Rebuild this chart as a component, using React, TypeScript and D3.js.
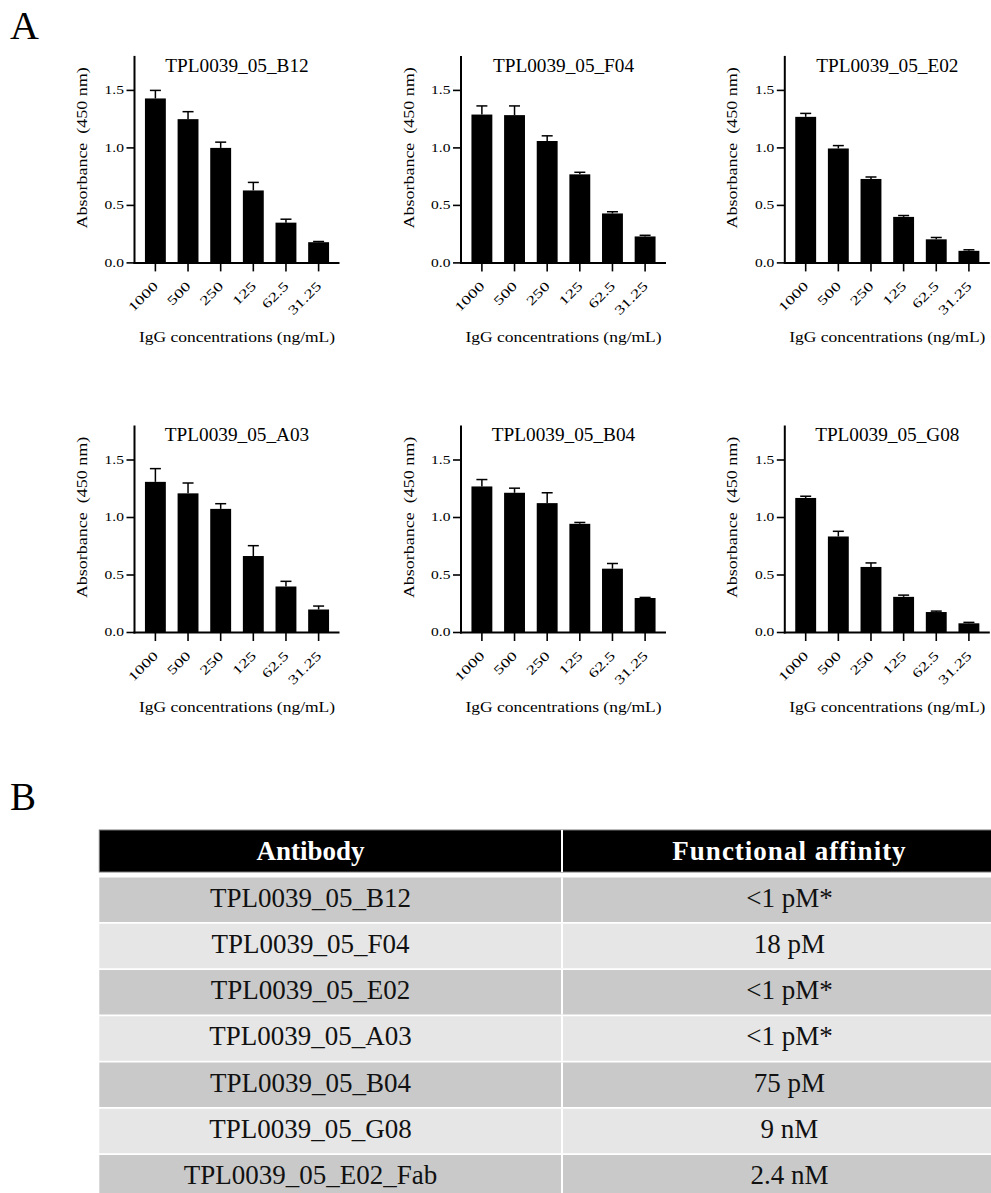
import React from "react";
import * as d3 from "d3";

const concentrations = ["1000", "500", "250", "125", "62.5", "31.25"];
const yTicks = [0, 0.5, 1.0, 1.5];
const panelTitles = [
  "TPL0039_05_B12",
  "TPL0039_05_F04",
  "TPL0039_05_E02",
  "TPL0039_05_A03",
  "TPL0039_05_B04",
  "TPL0039_05_G08",
];
const meanB12 = [1.43, 1.25, 1.0, 0.63, 0.35, 0.18];
const errB12 = [0.07, 0.065, 0.05, 0.07, 0.03, 0.006];
const meanF04 = [1.29, 1.285, 1.06, 0.77, 0.43, 0.23];
const errF04 = [0.075, 0.08, 0.045, 0.018, 0.015, 0.01];
const meanE02 = [1.27, 0.995, 0.73, 0.4, 0.205, 0.105];
const errE02 = [0.03, 0.025, 0.017, 0.012, 0.016, 0.009];
const meanA03 = [1.31, 1.21, 1.075, 0.665, 0.4, 0.2];
const errA03 = [0.115, 0.09, 0.045, 0.09, 0.045, 0.03];
const meanB04 = [1.27, 1.215, 1.125, 0.945, 0.555, 0.3];
const errB04 = [0.06, 0.04, 0.09, 0.012, 0.045, 0.005];
const meanG08 = [1.17, 0.835, 0.57, 0.31, 0.178, 0.08];
const errG08 = [0.015, 0.045, 0.035, 0.015, 0.008, 0.008];

const panelMeans = [meanB12, meanF04, meanE02, meanA03, meanB04, meanG08];
const panelErrs = [errB12, errF04, errE02, errA03, errB04, errG08];

const yAxisTitle = "Absorbance  (450 nm)";
const xAxisTitle = "IgG concentrations (ng/mL)";

const tableHeader = ["Antibody", "Functional affinity"];
const tableAntibodies = [
  "TPL0039_05_B12",
  "TPL0039_05_F04",
  "TPL0039_05_E02",
  "TPL0039_05_A03",
  "TPL0039_05_B04",
  "TPL0039_05_G08",
  "TPL0039_05_E02_Fab",
];
const tableAffinity = ["<1 pM*", "18 pM", "<1 pM*", "<1 pM*", "75 pM", "9 nM", "2.4 nM"];

const FONT = "'Liberation Serif', 'Times New Roman', Times, serif";
const PLOT_W = 205;
const PLOT_H = 207;

function Panel({ x0, y0, title, means, errs }: any) {
  const x = d3
    .scaleBand<string>()
    .domain(concentrations)
    .range([0, PLOT_W])
    .paddingInner(0.36)
    .paddingOuter(0.32);
  const y = d3.scaleLinear().domain([0, 1.8]).range([0, -PLOT_H]);
  const bw = x.bandwidth();
  return (
    <g transform={`translate(${x0},${y0})`} fontFamily={FONT} fill="#000">
      {concentrations.map((c, i) => {
        const cx = (x(c) as number) + bw / 2;
        const top = y(means[i]);
        const et = y(means[i] + errs[i]);
        return (
          <g key={c}>
            <line x1={cx} x2={cx} y1={top} y2={et} stroke="#000" strokeWidth={1.5} />
            <line x1={cx - 5.5} x2={cx + 5.5} y1={et} y2={et} stroke="#000" strokeWidth={1.5} />
            <rect x={x(c)} y={top} width={bw} height={-top} fill="#000" />
          </g>
        );
      })}
      <line x1={0} x2={0} y1={1} y2={-PLOT_H} stroke="#000" strokeWidth={2} />
      <line x1={-1} x2={PLOT_W} y1={0} y2={0} stroke="#000" strokeWidth={2} />
      {yTicks.map((t) => (
        <g key={t}>
          <line x1={-8} x2={0} y1={y(t)} y2={y(t)} stroke="#000" strokeWidth={1.6} />
          <text
            transform={`translate(-10.5,${y(t) + 3.9}) scale(1.35,1)`}
            textAnchor="end"
            fontSize={11.5}
          >
            {d3.format(".1f")(t)}
          </text>
        </g>
      ))}
      {concentrations.map((c) => {
        const cx = (x(c) as number) + bw / 2;
        return (
          <g key={c}>
            <line x1={cx} x2={cx} y1={0} y2={8.5} stroke="#000" strokeWidth={1.6} />
            <text
              transform={`translate(${cx + 3.5},24) rotate(-45) scale(1.4,1)`}
              textAnchor="end"
              fontSize={13}
            >
              {c}
            </text>
          </g>
        );
      })}
      <text
        transform={`translate(${PLOT_W / 2},${-PLOT_H + 15.8}) scale(1.07,1)`}
        textAnchor="middle"
        fontSize={18}
      >
        {title}
      </text>
      <text
        transform={`translate(-47.5,-115) rotate(-90) scale(1.2,1)`}
        textAnchor="middle"
        fontSize={15}
        style={{ whiteSpace: "pre" }}
      >
        {yAxisTitle}
      </text>
      <text
        transform={`translate(${PLOT_W / 2},79.4) scale(1.13,1)`}
        textAnchor="middle"
        fontSize={15.5}
      >
        {xAxisTitle}
      </text>
    </g>
  );
}

export default function App() {
  const colX = [134.5, 461, 784.8];
  const rowY = [262.9, 632.5];
  const tableLeft = 99.3;
  const tableDiv = 562;
  const tableRight = 1030;
  const headerTop = 830;
  const headerH = 42;
  const rowTop0 = 877.5;
  const rowStep = 46.25;
  const rowH = 44.5;
  const col1Center = 310.5;
  const col2Center = 789.5;
  return (
    <svg
      width={991}
      height={1193}
      style={{ position: "absolute", left: 0, top: 0, background: "#fff" }}
    >
      <rect x={0} y={0} width={991} height={1193} fill="#fff" />
      <text x={10} y={39.3} fontFamily={FONT} fontSize={40}>
        A
      </text>
      <text x={10} y={810} fontFamily={FONT} fontSize={39}>
        B
      </text>
      {panelTitles.map((t, i) => (
        <Panel
          key={t}
          x0={colX[i % 3]}
          y0={rowY[Math.floor(i / 3)]}
          title={t}
          means={panelMeans[i]}
          errs={panelErrs[i]}
        />
      ))}
      <g fontFamily={FONT}>
        <rect x={tableLeft} y={headerTop} width={tableRight - tableLeft} height={headerH} fill="#000" stroke="#777" strokeWidth={1} />
        <line x1={tableDiv} x2={tableDiv} y1={headerTop} y2={headerTop + headerH} stroke="#fff" strokeWidth={2} />
        <text x={col1Center} y={headerTop + 30} textAnchor="middle" fontSize={27} fontWeight="bold" fill="#fff">
          {tableHeader[0]}
        </text>
        <text x={col2Center} y={headerTop + 30} textAnchor="middle" fontSize={27} fontWeight="bold" fill="#fff" letterSpacing={1}>
          {tableHeader[1]}
        </text>
        {tableAntibodies.map((a, i) => {
          const top = rowTop0 + i * rowStep;
          const fill = i % 2 === 0 ? "#c9c9c9" : "#e6e6e6";
          return (
            <g key={a}>
              <rect x={tableLeft} y={top} width={tableRight - tableLeft} height={rowH} fill={fill} />
              <line x1={tableDiv} x2={tableDiv} y1={top} y2={top + rowH} stroke="#fff" strokeWidth={2} />
              <text x={col1Center} y={top + 29} textAnchor="middle" fontSize={27} fill="#111">
                {a}
              </text>
              <text x={col2Center} y={top + 29} textAnchor="middle" fontSize={27} fill="#111">
                {tableAffinity[i]}
              </text>
            </g>
          );
        })}
      </g>
    </svg>
  );
}
